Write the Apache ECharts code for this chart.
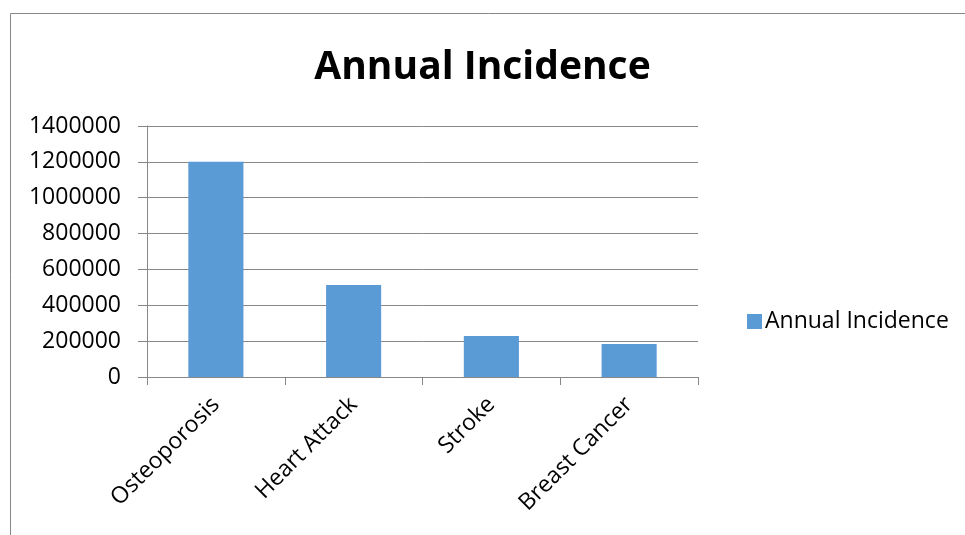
<!DOCTYPE html>
<html>
<head>
<meta charset="utf-8">
<script src="https://cdn.jsdelivr.net/npm/echarts@6/dist/echarts.min.js"></script>
<style>
  html, body { margin: 0; padding: 0; background: #fff; }
  #chart { width: 965px; height: 535px; }
</style>
</head>
<body>
<div id="chart"></div>
<script>
var categories = ['Osteoporosis', 'Heart Attack', 'Stroke', 'Breast Cancer'];
var incidence = [1200000, 513000, 228000, 184300];
var seriesName = 'Annual Incidence';

var chartDom = document.getElementById('chart');
var myChart = echarts.init(chartDom);
var option;

var font = '"Open Sans", "Noto Sans", sans-serif';

option = {
    backgroundColor: '#fff',
    textStyle: { fontFamily: font },
    graphic: [
        {
            type: 'rect',
            shape: { x: 10.5, y: 13.5, width: 1000, height: 600 },
            style: { fill: 'none', stroke: '#888', lineWidth: 1 },
            silent: true
        }
    ],
    title: {
        text: 'Annual Incidence',
        left: 'center',
        top: 43,
        textStyle: { fontFamily: font, fontSize: 39, fontWeight: 'bold', color: '#000' }
    },
    legend: {
        left: 742,
        top: 305,
        icon: 'rect',
        itemWidth: 15,
        itemHeight: 15,
        itemGap: 5,
        textStyle: { fontFamily: font, fontSize: 23, color: '#000', padding: [0, 0, 0, -2] },
        data: [seriesName]
    },
    grid: {
        left: 147,
        right: 267,
        top: 126,
        bottom: 158
    },
    xAxis: {
        type: 'category',
        data: categories,
        boundaryGap: true,
        axisLine: { lineStyle: { color: '#888' } },
        axisTick: { show: true, length: 8, lineStyle: { color: '#888' } },
        axisLabel: {
            rotate: 45,
            margin: 24,
            interval: 0,
            fontFamily: font,
            fontSize: 23,
            color: '#000'
        }
    },
    yAxis: {
        type: 'value',
        min: 0,
        max: 1400000,
        interval: 200000,
        axisLine: { show: true, lineStyle: { color: '#888' } },
        axisTick: { show: true, length: 9, lineStyle: { color: '#888' } },
        splitLine: { lineStyle: { color: '#888' } },
        axisLabel: {
            margin: 26,
            fontFamily: font,
            fontSize: 23,
            color: '#000',
            formatter: function (v) { return String(v); }
        }
    },
    series: [
        {
            name: seriesName,
            type: 'bar',
            barWidth: '40%',
            itemStyle: { color: '#5b9bd5' },
            data: incidence
        }
    ]
};

option && myChart.setOption(option);
</script>
</body>
</html>
